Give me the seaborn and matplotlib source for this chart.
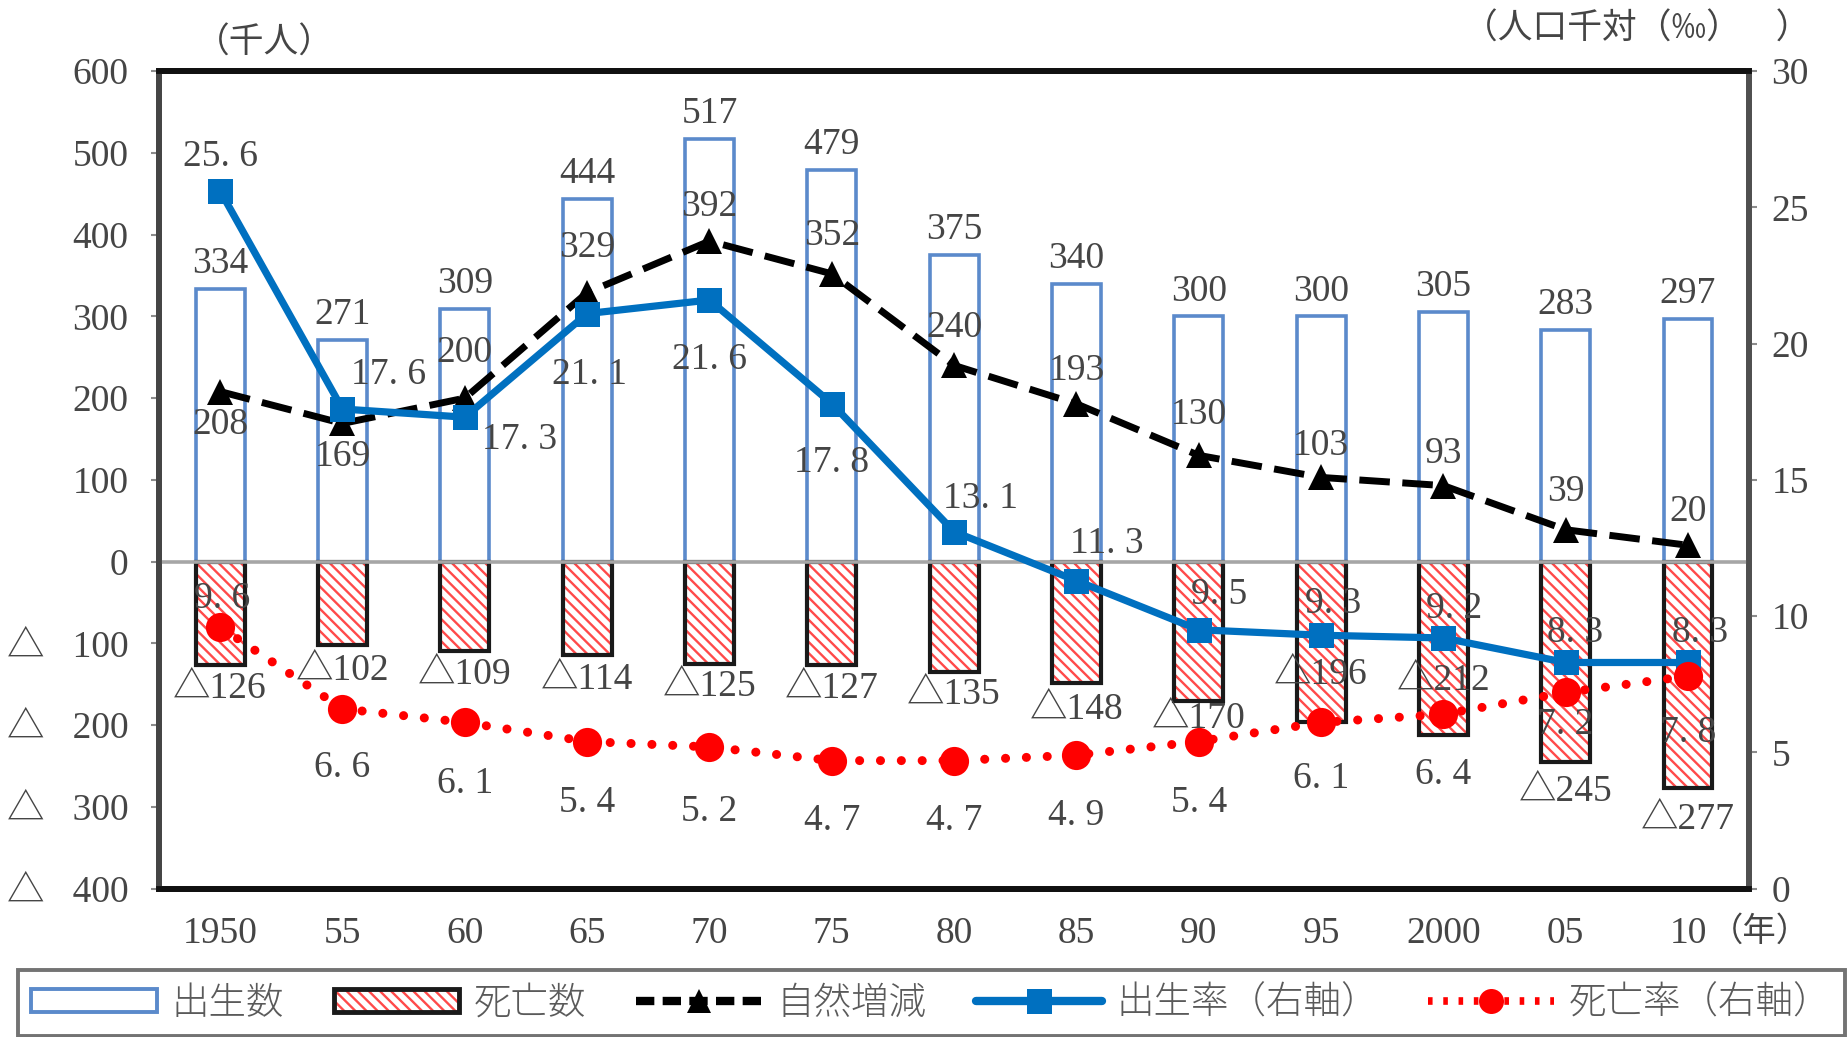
import numpy as np
import pandas as pd
import matplotlib
matplotlib.use("Agg")
import matplotlib.pyplot as plt
import seaborn as sns
from matplotlib.patches import Patch
from matplotlib.lines import Line2D
from matplotlib.legend_handler import HandlerTuple

# ---- data -------------------------------------------------------------
years = ["1950", "55", "60", "65", "70", "75", "80", "85", "90", "95", "2000", "05", "10"]
births = [334, 271, 309, 444, 517, 479, 375, 340, 300, 300, 305, 283, 297]          # 千人
deaths = [126, 102, 109, 114, 125, 127, 135, 148, 170, 196, 212, 245, 277]          # 千人
natural = [208, 169, 200, 329, 392, 352, 240, 193, 130, 103, 93, 39, 20]            # 千人
birth_rate = [25.6, 17.6, 17.3, 21.1, 21.6, 17.8, 13.1, 11.3, 9.5, 9.3, 9.2, 8.3, 8.3]  # ‰
death_rate = [9.6, 6.6, 6.1, 5.4, 5.2, 4.7, 4.7, 4.9, 5.4, 6.1, 6.4, 7.2, 7.8]          # ‰

left_ticks = [600, 500, 400, 300, 200, 100, 0, -100, -200, -300, -400]
right_ticks = [0, 5, 10, 15, 20, 25, 30]

legend_labels = ["出生数", "死亡数", "自然増減", "出生率（右軸）", "死亡率（右軸）"]

# ---- label placement (offsets in points; + is up) --------------------
PX = 0.85
birth_lbl_dy = [18] * 13
death_lbl_dy = [-v * PX for v in [20, 22, 20, 21, 19, 20, 19, 23, 15, -40, -46, 25, 27]]
natural_lbl_dy = [-v * PX for v in [28, 28, -38, -38, -29, -32, -32, -28, -34, -27, -27, -32, -28]]
brate_lbl = [(0, -29), (39, -29), (46, 19), (2, 52), (0, 51), (0, 50), (22, -28),
             (26, -31), (17, -30), (10, -27), (9, -25), (8, -25), (10, -25)]
drate_lbl = [(2, -24), (0, 50), (0, 52), (0, 52), (0, 55), (0, 51), (0, 51),
             (0, 51), (0, 52), (0, 48), (0, 51), (0, 27), (0, 48)]

# ---- style -------------------------------------------------------------
sns.set_style("white")
plt.rcParams["font.family"] = ["Liberation Serif", "Noto Sans CJK JP", "DejaVu Sans"]
plt.rcParams["hatch.linewidth"] = 1.7
TXT = "#454545"
BLUE_BAR = "#5B8ACB"
BLUE = "#0070C0"
RED = "#FF0000"
HATCH_RED = "#FF4a4a"
HATCH = "\\\\\\"
FS = 27
CJK = ["Noto Sans CJK JP", "DejaVu Sans"]

fig = plt.figure(figsize=(18.49, 10.37), dpi=100)
ax = fig.add_axes([0.086, 0.143, 0.860, 0.7885])
ax2 = ax.twinx()

df = pd.DataFrame({"year": years, "births": births, "deaths": [-d for d in deaths]})
pos = np.arange(len(years))

# births: open bars with blue outline
sns.barplot(data=df, x="year", y="births", order=years, color="white",
            edgecolor=BLUE_BAR, linewidth=2.6, width=0.4, saturation=1,
            errorbar=None, ax=ax, zorder=2)
# deaths: red hatch, then a black outline on top
sns.barplot(data=df, x="year", y="deaths", order=years, color="white",
            edgecolor=HATCH_RED, linewidth=0, hatch=HATCH, width=0.4, saturation=1,
            errorbar=None, ax=ax, zorder=2)
sns.barplot(data=df, x="year", y="deaths", order=years, color="white",
            width=0.4, saturation=1, errorbar=None, ax=ax, zorder=3)
for p in ax.containers[-1]:
    p.set_facecolor("none")
    p.set_edgecolor("#1a1a1a")
    p.set_linewidth(3.0)

ax.axhline(0, color="#a6a6a6", lw=2.6, zorder=4)

# natural increase (left axis)
sns.lineplot(x=pos, y=natural, ax=ax, color="black", lw=5, marker="^",
             markersize=19, markeredgewidth=0, zorder=6)
ax.lines[-1].set_dashes([4.4, 1.8])

# rates (right axis)
sns.lineplot(x=pos, y=birth_rate, ax=ax2, color=BLUE, lw=5.2, marker="s",
             markersize=18, markeredgewidth=0, zorder=6)
sns.lineplot(x=pos, y=death_rate, ax=ax2, color=RED, lw=6.5, marker="o",
             markersize=21, markeredgewidth=0, zorder=6)
dl = ax2.lines[-1]
dl.set_dashes([0.01, 2.3])
dl.set_dash_capstyle("round")

ax.set_xlim(-0.5, len(years) - 0.5)
ax.set_ylim(-400, 600)
ax2.set_ylim(0, 30)
ax.set_xlabel("")
ax.set_ylabel("")
ax2.set_xlabel("")
ax2.set_ylabel("")

ax.set_yticks(left_ticks)
ax.set_yticklabels([str(v) if v >= 0 else f"△   {-v}" for v in left_ticks])
ax2.set_yticks(right_ticks)
ax2.set_yticklabels([str(v) for v in right_ticks])
ax.set_xticks(pos)
ax.set_xticklabels(years)

ax.tick_params(axis="y", length=6, width=1.5, color="#8c8c8c", pad=16,
               labelsize=FS, labelcolor=TXT)
ax.tick_params(axis="x", length=0, pad=20, labelsize=FS, labelcolor=TXT)
ax2.tick_params(axis="y", length=6, width=1.5, color="#8c8c8c", pad=10,
                labelsize=FS, labelcolor=TXT)

for a in (ax, ax2):
    for s in a.spines.values():
        s.set_linewidth(4.2)
    a.spines["top"].set_color("#111111")
    a.spines["bottom"].set_color("#111111")
    a.spines["left"].set_color("#454545")
    a.spines["right"].set_color("#505050")
ax.set_facecolor("white")

# ---- value labels ------------------------------------------------------
def put(axis, x, y, s, dx, dy):
    axis.annotate(s, (x, y), xytext=(dx, dy), textcoords="offset points",
                  ha="center", va="center", fontsize=FS, color=TXT, zorder=10)

for i in range(len(years)):
    put(ax, i, births[i], str(births[i]), 0, birth_lbl_dy[i])
    put(ax, i, -deaths[i], f"△{deaths[i]}", 0, death_lbl_dy[i])
    put(ax, i, natural[i], str(natural[i]), 0, natural_lbl_dy[i])
    bx, by = brate_lbl[i]
    put(ax2, i, birth_rate[i], f"{birth_rate[i]:.1f}".replace(".", ". "), bx * PX, -by * PX)
    rx, ry = drate_lbl[i]
    put(ax2, i, death_rate[i], f"{death_rate[i]:.1f}".replace(".", ". "), rx * PX, -ry * PX)

# ---- unit captions -----------------------------------------------------
fig.text(0.143, 0.958, "（千人）", fontsize=25, color=TXT, ha="center", va="center", family=CJK)
fig.text(0.885, 0.972, "（人口千対（‰）　）", fontsize=25, color=TXT, ha="center", va="center", family=CJK)
fig.text(0.952, 0.102, "（年）", fontsize=24, color=TXT, ha="center", va="center", family=CJK)

# ---- legend ------------------------------------------------------------
handles = [
    Patch(facecolor="white", edgecolor=BLUE_BAR, linewidth=2.8),
    (Patch(facecolor="white", edgecolor=HATCH_RED, hatch=HATCH, linewidth=0),
     Patch(facecolor="none", edgecolor="#1a1a1a", linewidth=3.5)),
    Line2D([], [], color="black", lw=6, dashes=[2.2, 1.0], marker="^", markersize=17, markeredgewidth=0),
    Line2D([], [], color=BLUE, lw=6, marker="s", markersize=18, markeredgewidth=0),
    Line2D([], [], color=RED, lw=5.5, dashes=[0.6, 1.4], marker="o", markersize=18, markeredgewidth=0),
]
leg = fig.legend(handles, legend_labels, loc="center", ncol=5, mode="expand",
                 bbox_to_anchor=(0.0097, 0.003, 0.988, 0.06),
                 handler_map={tuple: HandlerTuple(ndivide=1)},
                 handlelength=3.35, handleheight=0.55, handletextpad=0.4,
                 numpoints=1, frameon=True, fancybox=False, borderaxespad=0,
                 borderpad=0.35,
                 prop={"family": CJK, "size": 27, "weight": 300})
for t in leg.get_texts():
    t.set_color("#5a5a5a")
leg.get_frame().set_edgecolor("#505050")
leg.get_frame().set_linewidth(2.8)

fig.savefig("out.png", dpi=100, facecolor="white")
